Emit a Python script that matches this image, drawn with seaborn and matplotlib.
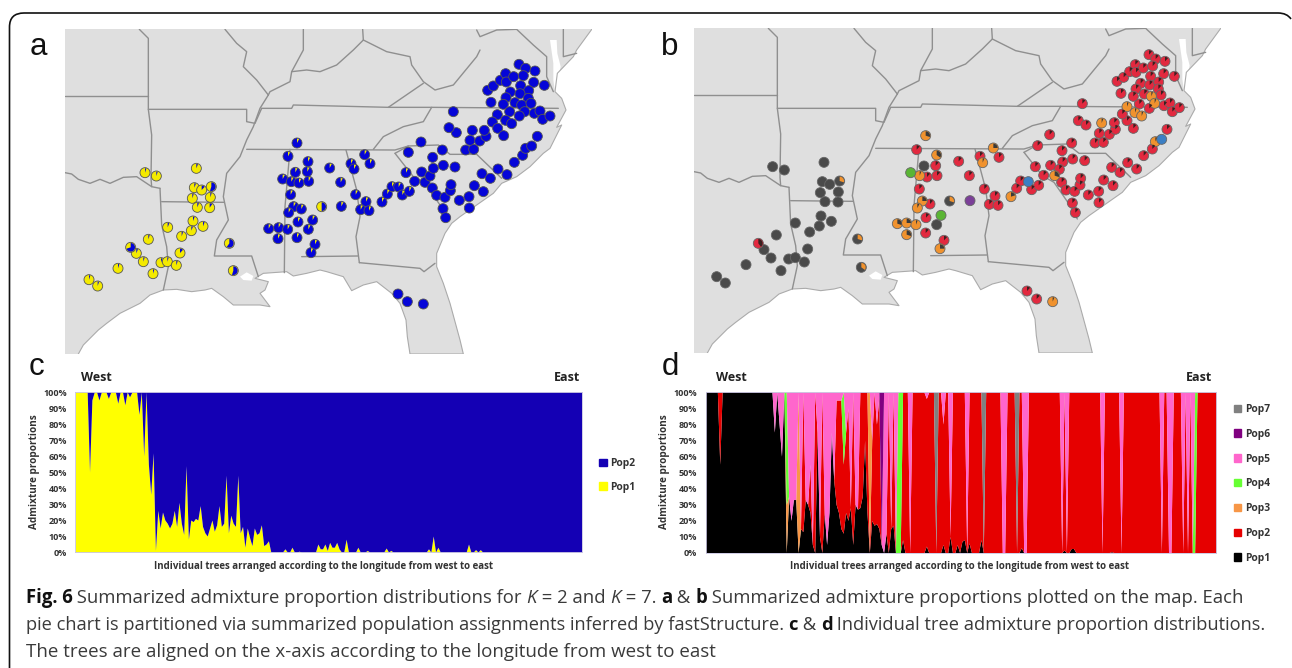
import matplotlib
matplotlib.use('Agg')
import matplotlib.pyplot as plt
from matplotlib.patches import Patch, PathPatch, Wedge
from matplotlib.path import Path
import numpy as np
import pandas as pd
import seaborn as sns

W, H = 1292, 668

# --- trees, west to east ---
n_trees = 216

# panel c, Pop1 share per tree (Pop2 is the rest)
pop1_c = [100, 100, 100, 100, 100, 100, 50, 95, 100, 100,
          95, 100, 100, 100, 96, 100, 100, 100, 93, 100,
          100, 92, 100, 97, 100, 100, 100, 86, 100, 60,
          100, 55, 36, 62, 1, 26, 15, 25, 20, 18,
          15, 18, 26, 16, 31, 18, 11, 54, 8, 20,
          19, 21, 20, 29, 16, 12, 10, 15, 20, 13,
          17, 29, 16, 18, 48, 12, 23, 18, 16, 48,
          12, 16, 3, 15, 9, 4, 15, 11, 12, 17,
          4, 5, 7, 0, 0, 0, 0, 0, 0, 2,
          0, 0, 3, 0, 0, 0.5, 0, 0, 0, 0,
          0, 0, 0, 5, 2, 2, 5, 1, 6, 3,
          3, 6, 2, 0, 0, 8, 0, 0, 0, 0,
          3, 0, 0, 0, 1, 0, 0, 0, 0, 0,
          0, 0, 2.5, 0, 1, 0, 0, 0, 0, 0,
          0, 0, 0, 0, 0, 0, 0, 0, 0, 0,
          2, 0, 10, 0, 3, 0, 0, 0, 0, 0,
          0, 0, 0, 0, 0, 0, 0, 5, 0, 0,
          1.5, 0, 1.5, 0, 0, 0, 0, 0, 0, 0,
          0, 0, 0, 0, 0, 0, 0, 0, 0, 0,
          0, 0, 0, 0, 0, 0, 0, 0, 0, 0,
          0, 0, 0, 0, 0, 0, 0, 0, 0, 0,
          0, 0, 0, 0, 0, 0]

# panel d, black share for the western trees, the later ones are listed apart
pop1_d_west = [100, 100, 100, 100, 100, 100, 55, 100, 100, 100,
               100, 100, 100, 100, 100, 100, 100, 100, 100, 100,
               100, 100, 100, 100, 100, 100, 100, 100, 100, 75,
               100, 80, 60, 100, 0, 35, 20, 33, 33, 0,
               15, 13, 33, 30, 25, 5, 0, 75, 10, 0,
               25, 5, 25, 75, 45, 30, 25, 15, 12, 25,
               20, 28, 5, 30, 27, 28, 35, 70, 25, 0,
               20, 17, 18, 15, 5, 0, 12, 0, 15, 17,
               0, 0, 0, 8]
pop1_d_trees = [93, 100, 103, 106, 108, 109, 111, 116, 133, 151, 154, 155, 171]
pop1_d_share = [4, 5, 10, 5, 7, 8, 6, 8, 3, 1.5, 2.5, 2.5, 0.5]

pop3_d_trees = [34, 39, 69]
pop3_d_share = [30, 100, 100]
pop4_d_trees = [34, 58, 81, 82, 206]
pop4_d_share = [70, 45, 100, 100, 100]
pop5_d_trees = [29, 31, 32, 35, 36, 37, 38, 40, 42, 43, 44, 45, 47, 48, 50, 51, 52, 53, 54,
                55, 56, 57, 59, 60, 61, 63, 64, 70, 72, 73, 75, 76, 78, 80,
                86, 93, 100, 103, 110, 125, 126, 134, 135, 150, 152, 167, 175, 192,
                195, 196, 201, 203, 205]
pop5_d_share = [25, 20, 40, 65, 80, 67, 67, 85, 67, 70, 45, 95, 25, 90, 75, 95, 75, 25, 55,
                5, 5, 5, 25, 10, 72, 70, 73, 30, 20, 3, 100, 88, 85, 100,
                100, 4, 20, 90, 100, 100, 100, 100, 100, 100, 100, 100, 100, 100,
                100, 100, 100, 100, 100]
pop6_d_trees = [74]
pop6_d_share = [95]
pop7_d_trees = [97, 117, 131]
pop7_d_share = [100, 100, 100]

pops_c = ['Pop1', 'Pop2']
pops_d = ['Pop1', 'Pop2', 'Pop3', 'Pop4', 'Pop5', 'Pop6', 'Pop7']
colors_c = {'Pop1': '#ffff00', 'Pop2': '#1400b4'}
colors_d = {'Pop1': '#000000', 'Pop2': '#e60000', 'Pop3': '#f79646', 'Pop4': '#66ff33',
            'Pop5': '#ff66cc', 'Pop6': '#800080', 'Pop7': '#808080'}
pct_ticks = list(range(0, 101, 10))

# --- sample sites in map units (3 per pixel): x, y, share of the minor wedge ---
sites_yellow = [(375, 458, 5), (409, 468, 5), (529, 445, 6), (523, 503, 6), (545, 510, 12),
                (517, 535, 5), (571, 532, 5), (532, 562, 6), (569, 563, 10), (519, 603, 6),
                (549, 619, 6), (514, 632, 6), (485, 649, 5), (443, 622, 6), (385, 658, 5),
                (349, 700, 6), (370, 725, 5), (294, 745, 5), (207, 779, 5), (233, 798, 5),
                (399, 761, 5), (423, 728, 5), (442, 725, 5), (469, 736, 5), (480, 699, 12),
                (574, 500, 55), (332, 682, 70), (628, 670, 60), (640, 752, 55), (905, 560, 50)]
sites_blue_inner = [(831, 369), (804, 409), (864, 425), (826, 457), (862, 455), (788, 477), (814, 485),
                    (837, 489), (866, 484), (812, 524), (821, 560), (844, 567), (806, 578), (834, 606),
                    (878, 600), (746, 626), (776, 623), (803, 628), (865, 628), (774, 656), (831, 653),
                    (885, 673), (873, 698), (929, 444), (962, 487), (993, 431), (1002, 447), (1034, 404),
                    (1050, 431), (1007, 524), (1038, 545), (1022, 569), (1047, 572), (964, 559),
                    (1086, 546), (1102, 522), (1116, 500), (1136, 501), (1147, 525), (1168, 514),
                    (1158, 458)]
sites_blue_east = [(1184, 484), (1205, 456), (1215, 487), (1230, 468), (1240, 445), (1238, 412),
                   (1270, 436), (1305, 441), (1267, 390), (1203, 366), (1165, 397), (1237, 504),
                   (1250, 526), (1275, 532), (1291, 512), (1293, 494), (1318, 541), (1347, 530),
                   (1348, 564), (1269, 566), (1277, 593), (1363, 497), (1390, 515), (1386, 461),
                   (1411, 475), (1434, 447), (1461, 464), (1483, 427), (1508, 406), (1517, 385),
                   (1535, 378), (1552, 349), (1337, 390), (1361, 388), (1350, 361), (1379, 363),
                   (1398, 349), (1393, 331), (1357, 331), (1309, 338), (1287, 323), (1300, 275),
                   (1413, 247), (1403, 211), (1420, 198), (1441, 181), (1457, 161), (1459, 186),
                   (1481, 170), (1497, 133), (1517, 145), (1545, 153), (1510, 167), (1541, 187),
                   (1573, 196), (1502, 197), (1526, 212), (1471, 216), (1500, 221), (1458, 233),
                   (1525, 235), (1485, 248), (1450, 253), (1505, 255), (1533, 250), (1469, 275),
                   (1514, 275), (1543, 280), (1560, 273), (1498, 288), (1432, 284), (1457, 301),
                   (1475, 311), (1417, 306), (1433, 325), (1451, 347), (1568, 298), (1590, 288),
                   (1134, 822), (1162, 845), (1210, 852)]

sites_dark = [(371, 443, 0), (406, 453, 0), (525, 430, 0), (520, 488, 0), (542, 496, 0), (514, 521, 0),
              (568, 519, 0), (528, 548, 0), (567, 549, 0), (516, 591, 0), (547, 607, 0), (511, 621, 0),
              (439, 612, 0), (482, 639, 0), (382, 648, 0), (345, 692, 0), (366, 717, 0), (291, 737, 0),
              (203, 773, 0), (229, 792, 0), (396, 755, 0), (419, 720, 0), (439, 716, 0), (466, 729, 0),
              (476, 690, 0), (825, 441, 0), (863, 617, 0), (572, 486, 30), (626, 660, 30), (637, 745, 35),
              (902, 546, 30)]
sites_red = [(328, 673, 40), (803, 392, 12), (860, 440, 12), (834, 474, 12), (864, 470, 12), (929, 427, 12),
             (961, 470, 12), (811, 510, 12), (843, 555, 12), (831, 596, 12), (830, 642, 12), (885, 664, 12),
             (993, 412, 12), (1006, 510, 12), (1021, 556, 12), (1050, 415, 12), (1038, 531, 12), (1047, 559, 12),
             (1103, 508, 12), (1115, 486, 12), (1148, 512, 12), (1169, 499, 12), (1159, 443, 12), (1184, 469, 12),
             (1166, 380, 12), (1202, 347, 12), (1268, 372, 12), (1239, 395, 12), (1241, 429, 12), (1271, 420, 12),
             (1307, 425, 12), (1205, 439, 12), (1231, 451, 12), (1238, 490, 12), (1251, 513, 12), (1277, 517, 12),
             (1293, 498, 12), (1295, 478, 12), (1318, 528, 12), (1349, 517, 12), (1270, 552, 12), (1350, 551, 12),
             (1279, 581, 12), (1364, 483, 12), (1392, 500, 12), (1388, 445, 12), (1413, 460, 12), (1436, 431, 12),
             (1463, 450, 12), (1484, 410, 12), (1510, 390, 12), (1554, 331, 12), (1338, 372, 12), (1363, 370, 12),
             (1351, 343, 12), (1381, 346, 12), (1399, 331, 12), (1396, 311, 12), (1288, 305, 12), (1311, 318, 12),
             (1300, 254, 12), (1453, 328, 12), (1434, 305, 12), (1420, 285, 12), (1471, 255, 12), (1501, 268, 12),
             (1416, 223, 12), (1404, 187, 12), (1424, 175, 12), (1442, 158, 12), (1459, 137, 12), (1461, 160, 12),
             (1483, 147, 12), (1500, 107, 12), (1520, 120, 12), (1548, 127, 12), (1511, 141, 12), (1544, 164, 12),
             (1576, 172, 12), (1505, 172, 12), (1475, 193, 12), (1502, 198, 12), (1529, 189, 12), (1461, 210, 12),
             (1528, 210, 12), (1486, 225, 12), (1453, 232, 12), (1536, 228, 12), (1545, 260, 12), (1563, 252, 12),
             (1570, 278, 12), (1591, 266, 12), (1134, 816, 12), (1163, 840, 12)]
sites_orange = [(830, 350, 30), (863, 408, 35), (812, 470, 6), (820, 546, 25), (805, 567, 8), (745, 614, 30),
                (773, 612, 25), (801, 617, 6), (773, 647, 30), (873, 689, 25), (1001, 431, 6), (1033, 387, 25),
                (1086, 533, 20), (1217, 470, 30), (1358, 312, 6), (1434, 263, 6), (1458, 281, 6), (1478, 291, 6),
                (1507, 232, 6), (1517, 253, 6), (1519, 368, 6), (1211, 848, 6)]
sites_green = [(785, 461), (876, 589)]
sites_purple = [(963, 545)]
sites_steel = [(1138, 488), (1538, 361)]

# --- map outlines, map units ---
land_x = [135, 1716, 1670, 1660, 1612, 1605, 1625, 1638, 1610, 1625, 1590, 1570, 1530, 1490, 1445,
          1420, 1370, 1320, 1295, 1275, 1250, 1250, 1270, 1290, 1320, 1330,
          1170, 1162, 1158, 1140, 1115, 1070, 1030, 995, 970, 920, 900, 860, 820, 800, 730, 705,
          745, 735, 720, 750, 720, 680, 640, 610, 575, 555, 515, 470, 430, 390, 360, 300, 260,
          235, 210, 190, 175, 135]
land_y = [27, 27, 90, 110, 160, 215, 235, 270, 322, 315, 385, 400, 440, 470, 490,
          520, 555, 590, 610, 640, 700, 740, 790, 850, 960, 1002,
          1002, 950, 900, 850, 820, 785, 795, 812, 770, 755, 750, 760, 768, 755, 760, 775,
          785, 810, 820, 860, 855, 855, 855, 830, 805, 810, 815, 808, 810, 825, 850, 880, 910,
          930, 955, 975, 1002, 1002]
bay_x = [1612, 1622, 1605, 1600, 1600, 1590, 1610]
bay_y = [100, 140, 215, 180, 130, 60, 60]
lake_x = [660, 680, 700, 695, 670]
lake_y = [770, 757, 768, 782, 780]

borders = [
    ([135, 383], [228, 228]),
    ([358, 385, 385, 395, 393, 395], [28, 55, 268, 345, 475, 500]),
    ([135, 155, 175, 210, 240, 270, 310, 350, 395, 420], [458, 462, 478, 490, 478, 490, 472, 470, 500, 505]),
    ([420, 425, 440, 445, 430], [505, 615, 680, 740, 810]),
    ([385, 680, 680, 705, 725], [268, 268, 305, 310, 265]),
    ([425, 612], [545, 547]),
    ([745, 720, 700, 680, 660, 620, 610, 625, 590, 583, 695, 715],
     [225, 265, 320, 360, 410, 460, 530, 600, 660, 708, 708, 770]),
    ([615, 650, 680, 670, 710, 745], [28, 70, 95, 140, 180, 225]),
    ([850, 850, 815, 810, 750, 745], [28, 90, 155, 185, 215, 225]),
    ([815, 860, 900, 950, 1000, 1030, 1028], [155, 150, 155, 135, 90, 60, 28]),
    ([1030, 1100, 1170, 1175, 1210, 1245, 1300, 1370, 1380], [60, 95, 110, 135, 185, 210, 195, 110, 90]),
    ([725, 815, 820, 1105, 1235, 1615], [265, 265, 255, 262, 262, 265]),
    ([680, 1125, 1165], [388, 390, 378]),
    ([810, 795, 793], [388, 560, 758]),
    ([978, 1010, 1020, 1008, 1018], [390, 510, 590, 650, 728]),
    ([845, 1013], [710, 708]),
    ([1018, 1200, 1212, 1245], [728, 745, 755, 730]),
    ([1210, 1105], [190, 262]),
    ([1235, 1210, 1150, 1090, 1060], [262, 305, 320, 350, 388]),
    ([1125, 1165, 1255, 1290, 1370, 1445], [400, 378, 375, 403, 403, 475]),
    ([1125, 1180, 1215, 1260, 1285], [400, 470, 490, 555, 600]),
    ([1370, 1380, 1430, 1490, 1540, 1580, 1580, 1600], [30, 50, 30, 28, 75, 110, 170, 215]),
    ([1630, 1630, 1670], [28, 110, 100]),
]

# caption runs: text, weight, style
caption_lines = [
    [('Fig. 6', 'bold', 'normal'), (' Summarized admixture proportion distributions for ', 'normal', 'normal'),
     ('K', 'normal', 'italic'), (' = 2 and ', 'normal', 'normal'), ('K', 'normal', 'italic'),
     (' = 7. ', 'normal', 'normal'), ('a', 'bold', 'normal'), (' & ', 'normal', 'normal'), ('b', 'bold', 'normal'),
     (' Summarized admixture proportions plotted on the map. Each', 'normal', 'normal')],
    [('pie chart is partitioned via summarized population assignments inferred by fastStructure. ', 'normal', 'normal'),
     ('c', 'bold', 'normal'), (' & ', 'normal', 'normal'), ('d', 'bold', 'normal'),
     (' Individual tree admixture proportion distributions.', 'normal', 'normal')],
    [('The trees are aligned on the x-axis according to the longitude from west to east', 'normal', 'normal')],
]

sns.set_theme(style='white')
plt.rcParams['font.family'] = ['Open Sans', 'DejaVu Sans']
fig = plt.figure(figsize=(W / 100, H / 100), dpi=100)


def px_axes(left, top, right, bottom):
    return fig.add_axes([left / W, 1 - bottom / H, (right - left) / W, (bottom - top) / H])


def spread(trees, share):
    out = np.zeros(n_trees)
    out[trees] = share
    return out


def draw_map(ax):
    ax.fill(land_x, land_y, color='#dfdfdf', lw=0)
    ax.fill(bay_x, bay_y, color='white', lw=0)
    ax.fill(lake_x, lake_y, color='white', lw=0)
    ax.plot(land_x[1:-1], land_y[1:-1], color='#ababab', lw=0.8)
    for bx, by in borders:
        ax.plot(bx, by, color='#8f8f8f', lw=1.0, solid_joinstyle='round')


def draw_pies(ax, groups, palette, edge):
    rows = []
    for name, sites, _ in groups:
        for site in sites:
            rows.append({'x': site[0], 'y': site[1], 'group': name})
    sns.scatterplot(data=pd.DataFrame(rows), x='x', y='y', hue='group', palette=palette, s=52,
                    edgecolor=edge, linewidth=0.6, legend=False, zorder=4, ax=ax)
    for name, sites, wedge_color in groups:
        for site in sites:
            if len(site) > 2 and site[2] > 0:
                ax.add_patch(Wedge(site[:2], 13, -90, -90 + site[2] * 3.6, color=wedge_color, lw=0, zorder=5))
    ax.set_xlim(135, 1716)
    ax.set_ylim(1002, 27)
    ax.axis('off')


def draw_area(ax, df, order, palette):
    # first hue level ends up on top of the stack, so the order is reversed
    sns.histplot(data=df, x='tree', hue='pop', weights='share', multiple='stack',
                 bins=list(np.arange(n_trees + 1) - 0.5), element='poly', hue_order=order[::-1],
                 palette=palette, alpha=1, linewidth=0, legend=False, ax=ax)
    ax.set_xlim(0, n_trees - 1)
    ax.set_ylim(0, 100)
    ax.set_xticks([])
    ax.set_yticks(pct_ticks)
    ax.set_yticklabels([f'{t}%' for t in pct_ticks], fontsize=6.5, fontweight='bold', color='#333333')
    ax.tick_params(axis='y', length=0, pad=6)
    ax.set_xlabel('')
    ax.set_ylabel('')
    for sp in ax.spines.values():
        sp.set_color('#c8c4e0')
        sp.set_linewidth(0.6)


# map a
ax_a = px_axes(65, 29, 592, 354)
draw_map(ax_a)
pie_a = {'yellow': '#f4ea00', 'inner': '#0505d8', 'east': '#0505d8'}
draw_pies(ax_a, [('yellow', sites_yellow, pie_a['inner']),
                 ('inner', [(x, y, 8) for x, y in sites_blue_inner], pie_a['yellow']),
                 ('east', sites_blue_east, pie_a['yellow'])], pie_a, '#555555')

# map b
ax_b = px_axes(694, 28, 1221, 353)
draw_map(ax_b)
pie_b = {'dark': '#4a4a4a', 'red': '#e2293f', 'orange': '#f0922e', 'green': '#5ab534',
         'purple': '#7b3f98', 'steel': '#3b7fc4'}
draw_pies(ax_b, [('dark', sites_dark, pie_b['orange']), ('red', sites_red, '#3a2020'),
                 ('orange', sites_orange, '#3a3a3a'), ('green', sites_green, None),
                 ('purple', sites_purple, None), ('steel', sites_steel, None)], pie_b, '#666666')

# admixture area c
trees = np.arange(n_trees)
values_c = np.array(pop1_c, dtype=float)
df_c = pd.concat([pd.DataFrame({'tree': trees, 'pop': 'Pop1', 'share': values_c}),
                  pd.DataFrame({'tree': trees, 'pop': 'Pop2', 'share': 100 - values_c})])
ax_c = px_axes(75.4, 392, 581.5, 552)
draw_area(ax_c, df_c, pops_c, colors_c)

# admixture area d
pop1_d = spread(pop1_d_trees, pop1_d_share)
pop1_d[:len(pop1_d_west)] = pop1_d_west
rest_d = {'Pop3': spread(pop3_d_trees, pop3_d_share), 'Pop4': spread(pop4_d_trees, pop4_d_share),
          'Pop5': spread(pop5_d_trees, pop5_d_share), 'Pop6': spread(pop6_d_trees, pop6_d_share),
          'Pop7': spread(pop7_d_trees, pop7_d_share)}
pop2_d = np.clip(100 - pop1_d - sum(rest_d.values()), 0, 100)
frames_d = [pd.DataFrame({'tree': trees, 'pop': 'Pop1', 'share': pop1_d}),
            pd.DataFrame({'tree': trees, 'pop': 'Pop2', 'share': pop2_d})]
frames_d += [pd.DataFrame({'tree': trees, 'pop': p, 'share': v}) for p, v in rest_d.items()]
ax_d = px_axes(705.5, 392, 1216, 552.5)
draw_area(ax_d, pd.concat(frames_d), pops_d, colors_d)

# overlay in pixel coordinates for frame and text
over = fig.add_axes([0, 0, 1, 1], facecolor='none')
over.set_xlim(0, W)
over.set_ylim(H, 0)
over.axis('off')
frame = Path([(9.5, H), (9.5, 27), (9.5, 13), (24, 13), (1278, 13), (1287, 13), (1291, 19)],
             [Path.MOVETO, Path.LINETO, Path.CURVE3, Path.CURVE3, Path.LINETO, Path.CURVE3, Path.CURVE3])
over.add_patch(PathPatch(frame, fc='none', ec='#111111', lw=1.2))

for letter, lx, ly in [('a', 30, 47), ('b', 661, 47), ('c', 29, 367), ('d', 662, 367)]:
    over.text(lx, ly, letter, fontsize=22.5, family='Liberation Sans', color='#111111', ha='left', va='center')

for word, wx, wy, ha in [('West', 81, 377.5, 'left'), ('East', 580, 377.5, 'right'),
                         ('West', 716, 377.5, 'left'), ('East', 1212, 377.5, 'right')]:
    over.text(wx, wy, word, fontsize=9, fontweight='bold', color='#222222', ha=ha, va='center')

for cx in (324, 960):
    over.text(cx, 566, 'Individual trees arranged according to the longitude from west to east',
              fontsize=7, fontweight='bold', color='#333333', ha='center', va='center')
for yx in (34, 664):
    over.text(yx, 472, 'Admixture proportions', fontsize=7.2, fontweight='bold', color='#333333',
              rotation=90, ha='center', va='center')

leg_c = fig.legend(handles=[Patch(color=colors_c[p], label=p) for p in pops_c[::-1]], loc='upper left',
                   bbox_to_anchor=(599 / W, 1 - 458 / H), frameon=False,
                   prop={'size': 7.4, 'weight': 'bold'}, labelcolor='#333333', handlelength=0.75, handleheight=0.75,
                   handletextpad=0.35, labelspacing=1.25, borderpad=0, borderaxespad=0)
leg_d = fig.legend(handles=[Patch(color=colors_d[p], label=p) for p in pops_d[::-1]], loc='upper left',
                   bbox_to_anchor=(1233.5 / W, 1 - 404 / H), frameon=False,
                   prop={'size': 7.4, 'weight': 'bold'}, labelcolor='#333333', handlelength=0.75, handleheight=0.75,
                   handletextpad=0.35, labelspacing=1.34, borderpad=0, borderaxespad=0)

# caption, run by run; sizes differ a little per line to hit the same line ends
renderer = fig.canvas.get_renderer()
for line, cy, size in zip(caption_lines, (598, 625, 652), (13.35, 13.13, 13.5)):
    cur = 25.5
    for txt, weight, style in line:
        over.text(cur, cy, txt, fontsize=size, fontweight=weight, fontstyle=style,
                  color='#111111' if weight == 'bold' else '#3a3a3a', ha='left', va='center')
        # bars around the run keep leading and trailing blanks in the advance
        probe = over.text(0, 0, '|' + txt + '|', fontsize=size, fontweight=weight, fontstyle=style)
        bar = over.text(0, 0, '||', fontsize=size, fontweight=weight, fontstyle=style)
        cur += probe.get_window_extent(renderer).width - bar.get_window_extent(renderer).width
        probe.remove()
        bar.remove()

fig.savefig('out.png', dpi=100)
